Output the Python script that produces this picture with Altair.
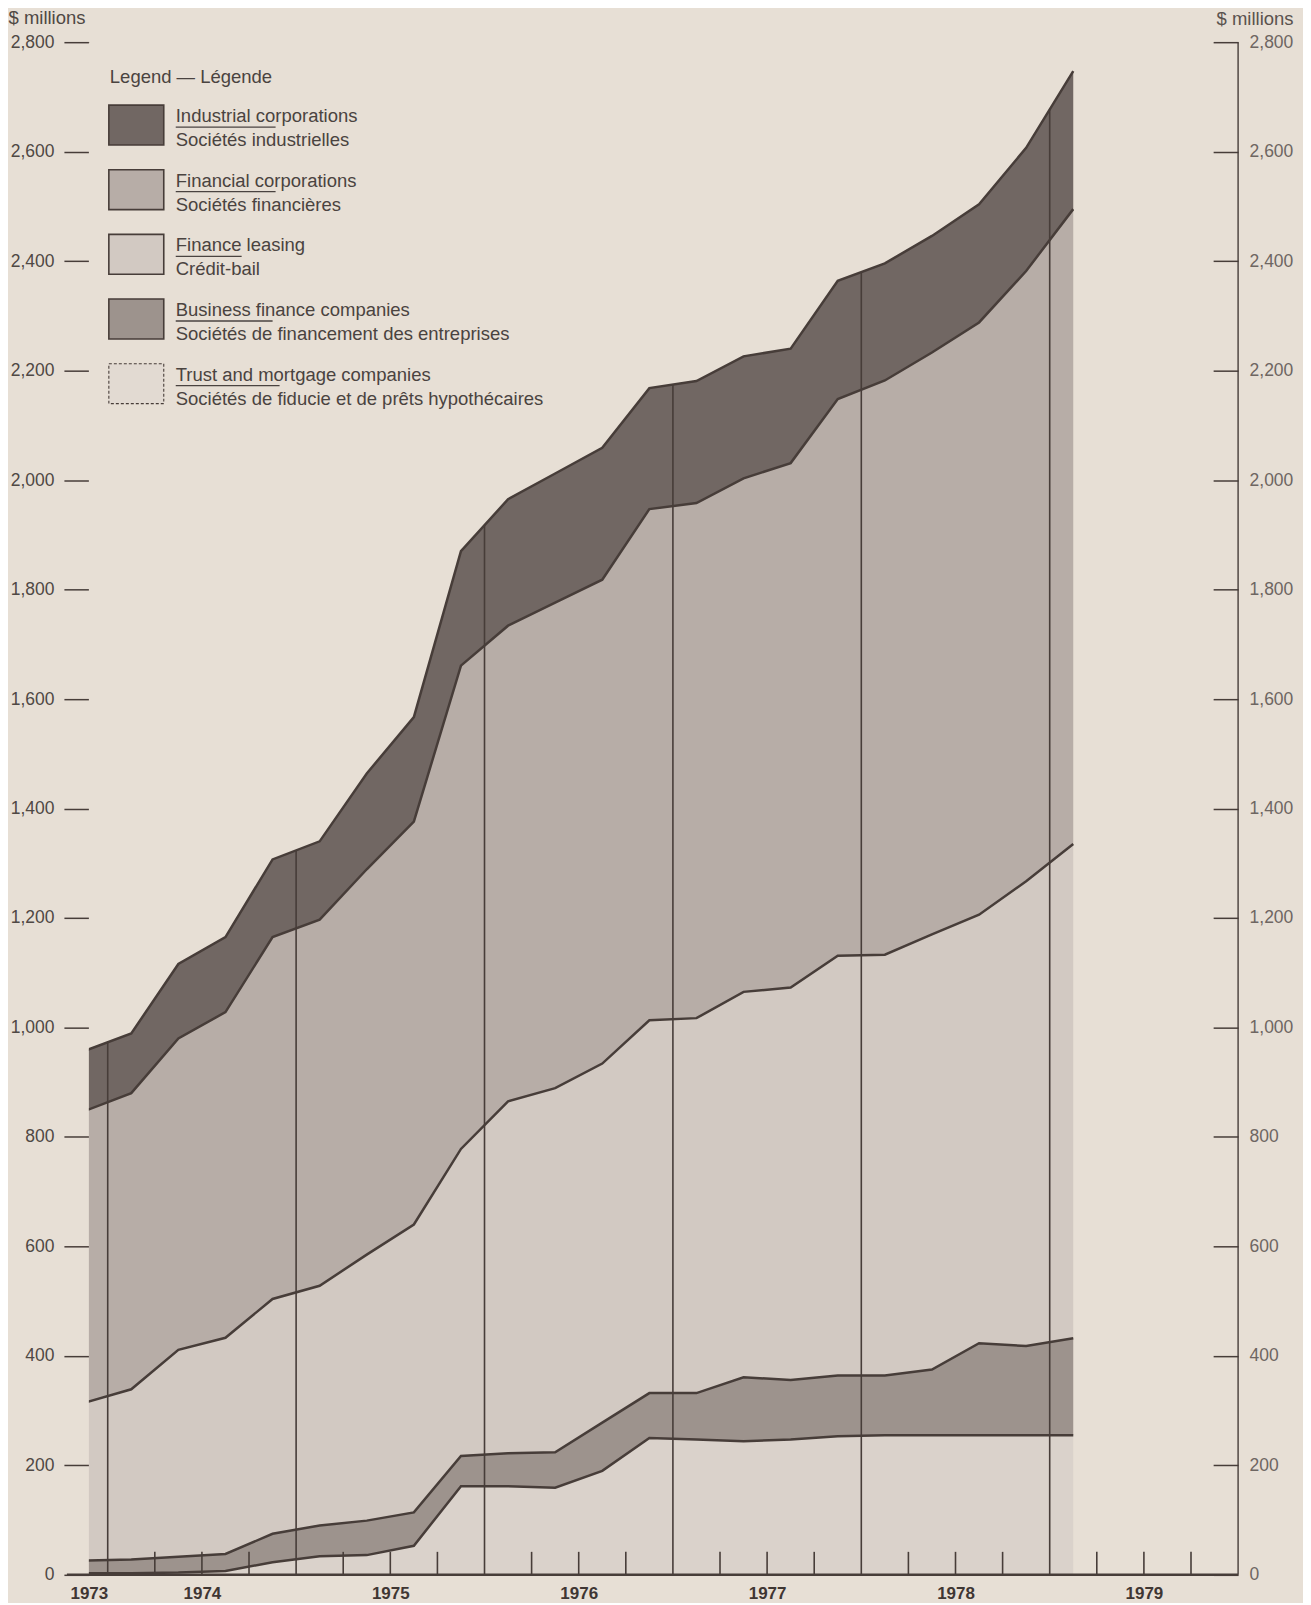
import altair as alt
import pandas as pd

# ---------------- data ----------------
PERIODS = [1973.875, 1974.125, 1974.375, 1974.625, 1974.875, 1975.125, 1975.375,
           1975.625, 1975.875, 1976.125, 1976.375, 1976.625, 1976.875, 1977.125,
           1977.375, 1977.625, 1977.875, 1978.125, 1978.375, 1978.625, 1978.875,
           1979.125]
TRUST = [3, 3, 4, 7, 23, 34, 36, 53, 162, 162, 159, 190, 250, 247, 244, 247,
         253, 255, 255, 255, 255, 255]
BUSINESS = [23, 25, 29, 31, 52, 56, 63, 61, 55, 60, 65, 88, 82, 85, 117, 109,
            111, 109, 120, 168, 163, 177]
LEASING = [288, 311, 378, 395, 429, 438, 486, 526, 561, 643, 665, 656, 681, 685,
           704, 717, 767, 769, 795, 783, 849, 903]
FINANCIAL = [533, 541, 569, 595, 661, 669, 704, 736, 883, 869, 887, 884, 934,
             941, 938, 958, 1017, 1049, 1063, 1082, 1115, 1160]
INDUSTRIAL = [110, 109, 136, 137, 142, 143, 175, 191, 209, 231, 236, 241, 221,
              223, 223, 209, 216, 214, 213, 216, 225, 252]

SERIES_EN = ["Industrial corporations", "Financial corporations", "Finance leasing",
             "Business finance companies", "Trust and mortgage companies"]
SERIES_FR = ["Sociétés industrielles", "Sociétés financières", "Crédit-bail",
             "Sociétés de financement des entreprises",
             "Sociétés de fiducie et de prêts hypothécaires"]
LEGEND_TITLE = "Legend — Légende"
UNIT = "$ millions"

YEAR_LINES = [1974, 1975, 1976, 1977, 1978, 1979]
QUARTER_TICKS = [1974.25, 1974.5, 1974.75, 1975.25, 1975.5, 1975.75,
                 1976.25, 1976.5, 1976.75, 1977.25, 1977.5, 1977.75,
                 1978.25, 1978.5, 1978.75, 1979.25, 1979.5, 1979.75]
YEAR_LABEL_AT = [1973.9, 1974.5, 1975.5, 1976.5, 1977.5, 1978.5, 1979.5]
Y_TICKS = [0, 200, 400, 600, 800, 1000, 1200, 1400, 1600, 1800, 2000, 2200,
           2400, 2600, 2800]

# ---------------- style ----------------
W, H = 1151, 1535
FONT = "Liberation Sans"
BG = "#e7dfd5"
LINE = "#473d39"
TXT = "#4a4340"
C_IND = "#716763"
C_FIN = "#b7ada7"
C_LEAS = "#d2c9c2"
C_BUS = "#9d938d"
C_TRUST = "#dad2cb"
LEGEND_COLORS = [C_IND, C_FIN, C_LEAS, C_BUS, "#e2dad2"]
LEGEND_RULE_LEN = [100, 100, 66, 97, 104]

df = pd.DataFrame({
    "t": PERIODS, "trust": TRUST, "business": BUSINESS, "leasing": LEASING,
    "financial": FINANCIAL, "industrial": INDUSTRIAL,
})

XS = alt.Scale(domain=[1973.9, 1980.0], nice=False, zero=False)
YS = alt.Scale(domain=[0, 2800], nice=False, zero=True)

base = alt.Chart(df).transform_calculate(
    c1="datum.trust",
    c2="datum.trust + datum.business",
    c3="datum.trust + datum.business + datum.leasing",
    c4="datum.trust + datum.business + datum.leasing + datum.financial",
    c5="datum.trust + datum.business + datum.leasing + datum.financial + datum.industrial",
)

x_plain = alt.X("t:Q", scale=XS, axis=None)

x_axis = alt.Axis(
    orient="bottom", values=YEAR_LABEL_AT, labelExpr="'' + floor(datum.value)",
    domain=False, ticks=False, grid=False, labelFlush=False, labelPadding=11,
    labelFont=FONT, labelFontSize=17, labelFontWeight="bold", labelColor="#3f3633",
    title=None,
)
left_axis = alt.Axis(
    orient="left", values=Y_TICKS, format=",d", domain=False, grid=False,
    tickSize=25, tickWidth=1.5, tickColor=LINE, labelPadding=10,
    labelFont=FONT, labelFontSize=17.5, labelColor="#4f4844",
    title=UNIT, titleAngle=0, titleX=-81, titleY=-25, titleAlign="left",
    titleBaseline="middle", titleFont=FONT, titleFontSize=18.5,
    titleFontWeight="normal", titleColor="#4f4844",
)
right_axis = alt.Axis(
    orient="right", offset=-25, values=Y_TICKS, format=",d", domain=False, grid=False,
    tickSize=25, tickWidth=1.5, tickColor=LINE, labelPadding=11,
    labelFont=FONT, labelFontSize=17.5, labelColor="#6e6662",
    title=UNIT, titleAngle=0, titleX=80, titleY=-24, titleAlign="right",
    titleBaseline="middle", titleFont=FONT, titleFontSize=18.5,
    titleFontWeight="normal", titleColor="#5a524e",
)

area_trust = base.mark_area(color=C_TRUST, clip=True).encode(
    x=alt.X("t:Q", scale=XS, axis=x_axis),
    y=alt.Y("c1:Q", scale=YS, axis=left_axis),
    y2=alt.datum(0),
)
area_bus = base.mark_area(color=C_BUS, clip=True).encode(
    x=x_plain, y=alt.Y("c2:Q", scale=YS, axis=None), y2="c1:Q")
area_leas = base.mark_area(color=C_LEAS, clip=True).encode(
    x=x_plain, y=alt.Y("c3:Q", scale=YS, axis=None), y2="c2:Q")
area_fin = base.mark_area(color=C_FIN, clip=True).encode(
    x=x_plain, y=alt.Y("c4:Q", scale=YS, axis=None), y2="c3:Q")
area_ind = base.mark_area(color=C_IND, clip=True).encode(
    x=x_plain, y=alt.Y("c5:Q", scale=YS, axis=None), y2="c4:Q")

year_rules = alt.Chart(pd.DataFrame({"yr": YEAR_LINES})).mark_rule(
    color=LINE, strokeWidth=1.6).encode(
    x=alt.X("yr:Q", scale=XS, axis=None), y=alt.value(H), y2=alt.value(12))

quarter_ticks = alt.Chart(pd.DataFrame({"q": QUARTER_TICKS})).mark_rule(
    color=LINE, strokeWidth=1.6).encode(
    x=alt.X("q:Q", scale=XS, axis=None), y=alt.value(H), y2=alt.value(H - 23))

mask = base.mark_area(color=BG, clip=True).encode(
    x=x_plain, y=alt.Y("c5:Q", scale=YS, axis=None), y2=alt.datum(2800))

lines = [
    base.mark_line(color=LINE, strokeWidth=2.5, clip=True).encode(
        x=x_plain, y=alt.Y(f"{c}:Q", scale=YS, axis=None))
    for c in ["c1", "c2", "c3", "c4", "c5"]
]

one = pd.DataFrame({"k": [0]})
baseline = alt.Chart(one).mark_rule(color=LINE, strokeWidth=2.6).encode(
    x=alt.value(-22), x2=alt.value(W), y=alt.value(H))

right_line = alt.Chart(pd.DataFrame({"lo": [0], "hi": [2800]})).mark_rule(
    color=LINE, strokeWidth=1.4).encode(
    x=alt.value(W), y=alt.Y("hi:Q", scale=YS, axis=right_axis), y2="lo:Q")

legend_layers = [
    alt.Chart(pd.DataFrame({"s": [LEGEND_TITLE]})).mark_text(
        align="left", baseline="middle", font=FONT, fontSize=18.5, color=TXT).encode(
        x=alt.value(21), y=alt.value(35), text="s:N")
]
for i in range(5):
    top = 63 + 64.75 * i
    item = pd.DataFrame({"en": [SERIES_EN[i]], "fr": [SERIES_FR[i]]})
    sw_kwargs = dict(fill=LEGEND_COLORS[i], stroke=LINE, strokeWidth=1.6)
    if i == 4:
        sw_kwargs = dict(fill=LEGEND_COLORS[i], stroke=LINE, strokeWidth=1.1,
                         strokeDash=[3, 2])
    legend_layers.append(alt.Chart(item).mark_rect(**sw_kwargs).encode(
        x=alt.value(20), x2=alt.value(75), y=alt.value(top), y2=alt.value(top + 40)))
    legend_layers.append(alt.Chart(item).mark_text(
        align="left", baseline="middle", font=FONT, fontSize=18.5, color=TXT).encode(
        x=alt.value(87), y=alt.value(top + 11), text="en:N"))
    legend_layers.append(alt.Chart(item).mark_rule(color=TXT, strokeWidth=1.3).encode(
        x=alt.value(87), x2=alt.value(87 + LEGEND_RULE_LEN[i]), y=alt.value(top + 22)))
    legend_layers.append(alt.Chart(item).mark_text(
        align="left", baseline="middle", font=FONT, fontSize=18.5, color=TXT).encode(
        x=alt.value(87), y=alt.value(top + 35), text="fr:N"))

chart = alt.layer(
    area_trust, area_bus, area_leas, area_fin, area_ind,
    year_rules, quarter_ticks, mask, *lines, baseline, right_line, *legend_layers,
).resolve_axis(x="independent", y="independent").properties(
    width=W, height=H,
    padding={"left": 81, "top": 33, "right": 65, "bottom": 27},
    autosize=alt.AutoSizeParams(type="none"),
).configure(background=BG).configure_view(stroke=None)

chart.save("out.html", embed_options={"renderer": "svg", "actions": False})
